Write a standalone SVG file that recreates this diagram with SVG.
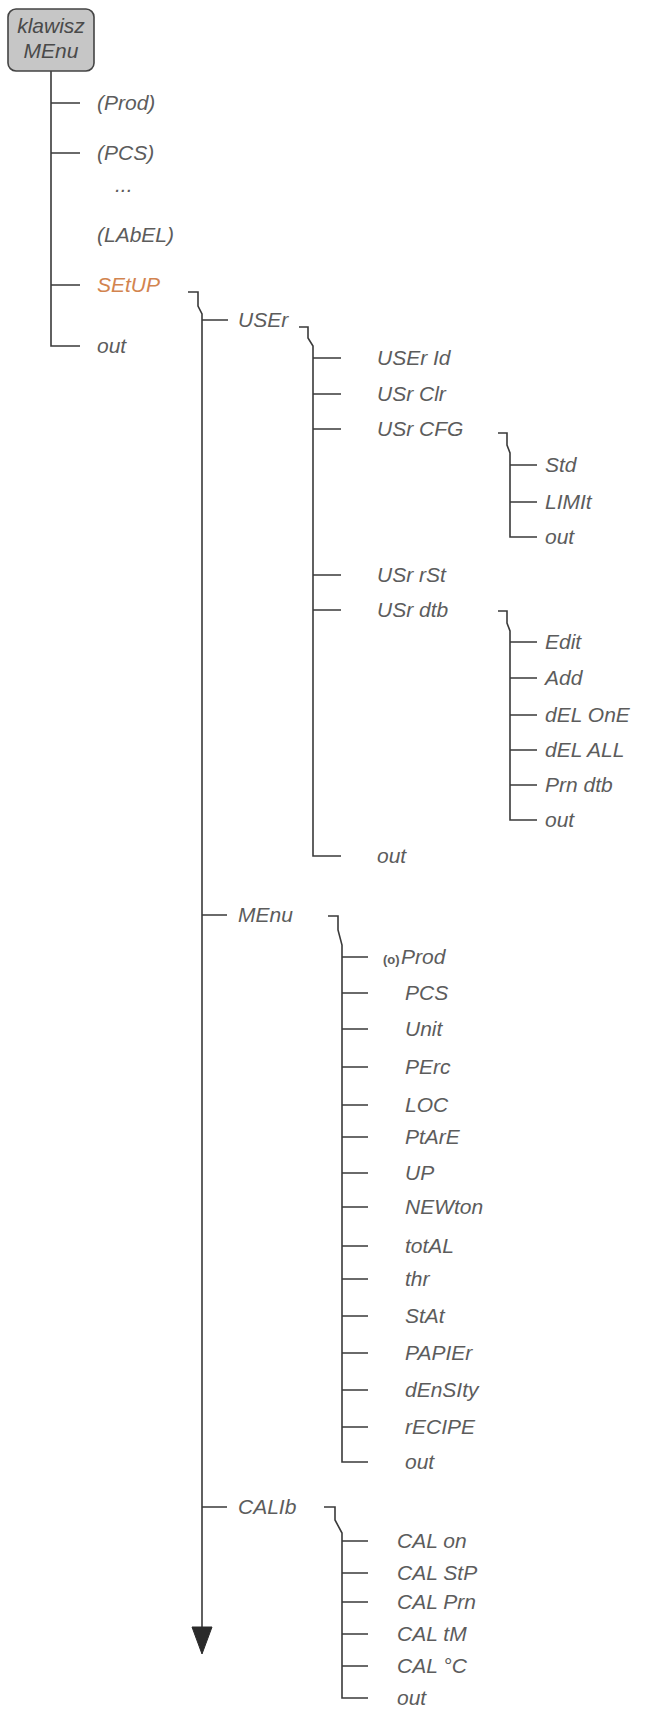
<svg xmlns="http://www.w3.org/2000/svg" width="646" height="1713" viewBox="0 0 646 1713">
<defs>
<style>
.ln{fill:none;stroke:#3a3a3a;stroke-width:1.6}
.t{font-family:"Liberation Sans",Arial,sans-serif;font-style:italic;font-size:21px;fill:#5c5c5c}
.or{fill:#d2844f}
.bx{fill:#c6c6c6;stroke:#444;stroke-width:1.6}
.bt{font-family:"Liberation Sans",Arial,sans-serif;font-style:italic;font-size:21px;fill:#4a4a4a;text-anchor:middle}
.sm{font-size:13px;font-style:normal;font-weight:bold}
</style>
</defs>
<rect width="646" height="1713" fill="#ffffff"/>
<g id="connectors" class="ln">
<path d="M51,71 V346 H80 M51,103 H80 M51,153 H80 M51,285 H80"/>
<path d="M188,292 H198 V306 L202,314 V1628"/>
<path d="M202,320 H228 M202,915 H227 M202,1507 H227"/>
<path d="M299,327 H308 V338 L313,346 V856 H341 M313,358 H341 M313,394 H341 M313,429 H341 M313,575 H341 M313,610 H341"/>
<path d="M498,433 H507 V445 L510,453 V537 H537 M510,465 H537 M510,502 H537"/>
<path d="M498,611 H507 V623 L510,631 V820 H537 M510,642 H537 M510,678 H537 M510,715 H537 M510,750 H537 M510,785 H537"/>
<path d="M328,916 H338 V930 L342,945 V1462 H368 M342,957 H368 M342,993 H368 M342,1029 H368 M342,1067 H368 M342,1105 H368 M342,1137 H368 M342,1173 H368 M342,1207 H368 M342,1246 H368 M342,1279 H368 M342,1316 H368 M342,1353 H368 M342,1390 H368 M342,1427 H368"/>
<path d="M324,1507 H335 V1520 L342,1533 V1698 H368 M342,1541 H368 M342,1573 H368 M342,1602 H368 M342,1634 H368 M342,1666 H368"/>
<polygon points="192,1627 212,1627 202,1654" fill="#2a2a2a" stroke="#2a2a2a" stroke-width="1"/>
</g>
<g id="root"><rect class="bx" x="8" y="9" width="86" height="62" rx="8"/><text class="bt" x="51" y="33">klawisz</text><text class="bt" x="51" y="58">MEnu</text></g>
<g id="prod"><text class="t" x="97" y="110">(Prod)</text></g>
<g id="pcs"><text class="t" x="97" y="160">(PCS)</text></g>
<g id="dots"><text class="t" x="115" y="192">...</text></g>
<g id="label"><text class="t" x="97" y="242">(LAbEL)</text></g>
<g id="setup"><text class="t or" x="97" y="292">SEtUP</text></g>
<g id="out1"><text class="t" x="97" y="353">out</text></g>
<g id="user"><text class="t" x="238" y="327">USEr</text></g>
<g id="menu"><text class="t" x="238" y="922">MEnu</text></g>
<g id="calib"><text class="t" x="238" y="1514">CALIb</text></g>
<g id="userid"><text class="t" x="377" y="365">USEr Id</text></g>
<g id="usrclr"><text class="t" x="377" y="401">USr Clr</text></g>
<g id="usrcfg"><text class="t" x="377" y="436">USr CFG</text></g>
<g id="usrrst"><text class="t" x="377" y="582">USr rSt</text></g>
<g id="usrdtb"><text class="t" x="377" y="617">USr dtb</text></g>
<g id="out2"><text class="t" x="377" y="863">out</text></g>
<g id="std"><text class="t" x="545" y="472">Std</text></g>
<g id="limit"><text class="t" x="545" y="509">LIMIt</text></g>
<g id="out3"><text class="t" x="545" y="544">out</text></g>
<g id="edit"><text class="t" x="545" y="649">Edit</text></g>
<g id="add"><text class="t" x="545" y="685">Add</text></g>
<g id="delone"><text class="t" x="545" y="722">dEL OnE</text></g>
<g id="delall"><text class="t" x="545" y="757">dEL ALL</text></g>
<g id="prndtb"><text class="t" x="545" y="792">Prn dtb</text></g>
<g id="out4"><text class="t" x="545" y="827">out</text></g>
<g id="mprod"><text class="t" y="964"><tspan class="sm" x="383">(o)</tspan><tspan x="401">Prod</tspan></text></g>
<g id="mpcs"><text class="t" x="405" y="1000">PCS</text></g>
<g id="unit"><text class="t" x="405" y="1036">Unit</text></g>
<g id="perc"><text class="t" x="405" y="1074">PErc</text></g>
<g id="loc"><text class="t" x="405" y="1112">LOC</text></g>
<g id="ptare"><text class="t" x="405" y="1144">PtArE</text></g>
<g id="up"><text class="t" x="405" y="1180">UP</text></g>
<g id="newton"><text class="t" x="405" y="1214">NEWton</text></g>
<g id="total"><text class="t" x="405" y="1253">totAL</text></g>
<g id="thr"><text class="t" x="405" y="1286">thr</text></g>
<g id="stat"><text class="t" x="405" y="1323">StAt</text></g>
<g id="papier"><text class="t" x="405" y="1360">PAPIEr</text></g>
<g id="density"><text class="t" x="405" y="1397">dEnSIty</text></g>
<g id="recipe"><text class="t" x="405" y="1434">rECIPE</text></g>
<g id="out5"><text class="t" x="405" y="1469">out</text></g>
<g id="calon"><text class="t" x="397" y="1548">CAL on</text></g>
<g id="calstp"><text class="t" x="397" y="1580">CAL StP</text></g>
<g id="calprn"><text class="t" x="397" y="1609">CAL Prn</text></g>
<g id="caltm"><text class="t" x="397" y="1641">CAL tM</text></g>
<g id="calc"><text class="t" x="397" y="1673">CAL °C</text></g>
<g id="out6"><text class="t" x="397" y="1705">out</text></g>
</svg>
